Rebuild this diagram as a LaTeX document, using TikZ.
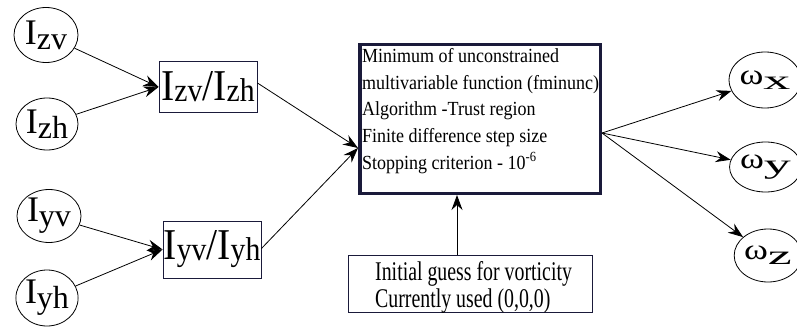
\documentclass[tikz,border=0pt]{standalone}
\usepackage{fontspec}
\setmainfont{Liberation Serif}
\newfontfamily\fmain[FakeStretch=0.9]{Liberation Serif}
\newfontfamily\finit[FakeStretch=0.735]{Liberation Serif}
\newfontfamily\fratio[FakeStretch=0.9]{Liberation Serif}
\newfontfamily\fomega[FakeStretch=1.25]{Liberation Serif}
\newfontfamily\fosub[FakeStretch=2.0]{Liberation Serif}
\usetikzlibrary{shapes.geometric,arrows.meta}
\newcommand{\bigI}[1]{{\fontsize{36}{36}\selectfont I}\raisebox{-5pt}{\fontsize{32}{32}\selectfont #1}}
\newcommand{\boxI}[1]{{\fontsize{44}{44}\selectfont I}\raisebox{-1pt}{\fontsize{33}{33}\selectfont #1}}
\newcommand{\omg}[1]{{\fomega\fontsize{29}{29}\selectfont ω}\raisebox{-5pt}{\fosub\fontsize{27}{27}\selectfont #1}}
\definecolor{navy}{HTML}{1A1A3A}
\tikzset{
  inp/.style={draw, ellipse, line width=0.8pt, inner sep=0pt},
  ratio/.style={draw=navy, rectangle, line width=0.9pt, inner sep=0pt},
  arr/.style={-{Stealth[length=15pt,width=11pt,inset=5pt]}, line width=0.8pt},
  mline/.style={anchor=base west, inner sep=0pt, font=\fmain\fontsize{20}{24}\selectfont},
  iline/.style={anchor=base west, inner sep=0pt, font=\finit\fontsize{27}{30}\selectfont},
}
\begin{document}
\begin{tikzpicture}[x=1pt,y=-1pt]
\useasboundingbox (0,0) rectangle (797,329);
% input ellipses
\node[inp, minimum width=64pt, minimum height=55pt] (izv) at (46,35) {\bigI{zv}};
\node[inp, minimum width=62pt, minimum height=52pt] (izh) at (47,124) {\bigI{zh}};
\node[inp, minimum width=64pt, minimum height=53pt] (iyv) at (49,216) {\bigI{yv}};
\node[inp, minimum width=62pt, minimum height=56pt] (iyh) at (47,298) {\bigI{yh}};
% ratio boxes
\node[ratio, minimum width=98pt, minimum height=51pt, font=\fratio\fontsize{44}{44}\selectfont] (bz) at (208,87) {\boxI{zv}/\boxI{zh}};
\node[ratio, minimum width=98pt, minimum height=57pt, font=\fratio\fontsize{44}{44}\selectfont] (by) at (212,249.5) {\boxI{yv}/\boxI{yh}};
% main box
\node[draw=navy, rectangle, line width=3.5pt, minimum width=240.5pt, minimum height=148.5pt, inner sep=0pt] (main) at (480,119) {};
\node[mline] (m1) at (362,62.7) {Minimum of unconstrained};
\node[mline] (m2) at (362,89.3) {multivariable function (fminunc)};
\node[mline] (m3) at (362,115.9) {Algorithm -Trust region};
\node[mline] (m4) at (362,142.5) {Finite difference step size};
\node[mline] (m5) at (362,169.1) {Stopping criterion - 10\textsuperscript{-6}};
% initial guess box
\node[ratio, minimum width=244pt, minimum height=57pt] (init) at (470,283.5) {};
\node[iline] (i1) at (375,280) {Initial guess for vorticity};
\node[iline] (i2) at (375,307) {Currently used (0,0,0)};
% outputs
\node[inp, minimum width=58pt, minimum height=56pt] (wx) at (765,80) {\omg{x}};
\node[inp, minimum width=63pt, minimum height=50pt] (wy) at (765.5,167) {\omg{y}};
\node[inp, minimum width=58pt, minimum height=53pt] (wz) at (768,255.5) {\omg{z}};
% coordinates
\coordinate (cin) at ([yshift=-29pt]main.west);
\coordinate (cout) at ([yshift=-14pt]main.east);
\coordinate (bzout) at ([yshift=4pt]bz.east);
\coordinate (byout) at ([yshift=1pt]by.east);
% connectors
\draw[arr] (izv) -- (bz.west);
\draw[arr] (izh) -- (bz.west);
\draw[arr] (iyv) -- (by.west);
\draw[arr] (iyh) -- (by.west);
\draw[arr] (bzout) -- (cin);
\draw[arr] (byout) -- (cin);
\draw[arr] (cout) -- (wx);
\draw[arr] (cout) -- (wy);
\draw[arr] (cout) -- (wz);
\draw[arr] (init.north -| 457,0) -- (main.south -| 457,0);
\end{tikzpicture}
\end{document}
